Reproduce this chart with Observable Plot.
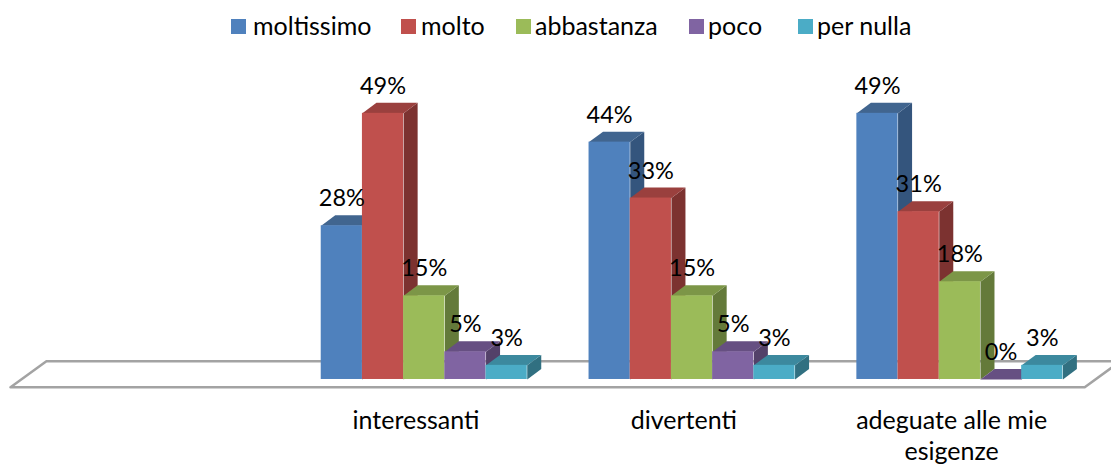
<!DOCTYPE html>
<html>
<head>
<meta charset="utf-8">
<script src="https://cdn.jsdelivr.net/npm/d3@7"></script>
<script src="https://cdn.jsdelivr.net/npm/@observablehq/plot@0.6"></script>
<style>
html,body{margin:0;padding:0;background:#fff;overflow:hidden;width:1111px;height:466px}
#legend{position:relative;height:52px;width:1111px;font:25px Lato,sans-serif;color:#000}
#legend div{position:absolute;top:9px;line-height:32px;white-space:nowrap}
#legend i{position:absolute;top:19px;width:15px;height:15px}
svg{display:block}
</style>
</head>
<body>
<div id="legend"></div>
<div id="chart"></div>
<script>
const categories = ["interessanti", "divertenti", "adeguate alle mie\nesigenze"];
const series = ["moltissimo", "molto", "abbastanza", "poco", "per nulla"];
const interessanti = [28.3, 49, 15.4, 5.1, 2.6];
const divertenti = [43.7, 33.4, 15.4, 5.1, 2.6];
const adeguate = [49, 30.9, 18, 0, 2.6];
const frontColors = ["#4f81bd", "#c0504d", "#9bbb59", "#8064a2", "#4bacc6"];
const topColors = ["#41658f", "#9a403e", "#7c9647", "#664f82", "#3c899e"];
const sideColors = ["#34557d", "#7c3230", "#647a3a", "#534169", "#317081"];
const legendSwatchX = [231, 401, 516, 689, 798];
const legendTextX = [253, 421, 535, 708, 817];

const groupStep = 6.5, depthX = 0.34, depthY = 1.93;
const groups = [interessanti, divertenti, adeguate];
const bars = groups.flatMap((vals, g) => vals.map((v, s) => ({
  g, s, v, x1: g * groupStep + s, x2: g * groupStep + s + 1, key: g + "-" + s, label: Math.round(v) + "%"
})));
const poly = pts => bars.flatMap(b => pts(b).map(([x, y]) => ({x, y, key: b.key, s: b.s})));
const sides = poly(b => [[b.x2, 0], [b.x2 + depthX, depthY], [b.x2 + depthX, b.v + depthY], [b.x2, b.v]]);
const tops = poly(b => [[b.x1, b.v], [b.x1 + depthX, b.v + depthY], [b.x2 + depthX, b.v + depthY], [b.x2, b.v]]);
const floorPts = [{x: -7.54, y: -1.42}, {x: -6.67, y: 3.37}, {x: 19.4, y: 3.37}, {x: 18.53, y: -1.42}, {x: -7.54, y: -1.42}];
const catLabels = categories.map((c, g) => ({c, x: g * groupStep + 2.3, y: -4.95}));

const fillBy = arr => d => arr[d.s];

const chart = Plot.plot({
  width: 1111, height: 414,
  marginTop: 0, marginRight: 0, marginBottom: 0, marginLeft: 0,
  x: {domain: [-7.784, 19.18], range: [0, 1111], axis: null},
  y: {domain: [-16.02, 60.2], range: [414, 0], axis: null},
  style: {background: "#fff", overflow: "hidden"},
  marks: [
    Plot.line(floorPts, {x: "x", y: "y", stroke: "#a3a3a3", strokeWidth: 2.5, curve: "linear", clip: true}),
    Plot.line(sides, {x: "x", y: "y", z: "key", fill: fillBy(sideColors), stroke: "none", curve: "linear"}),
    Plot.line(tops, {x: "x", y: "y", z: "key", fill: fillBy(topColors), stroke: "none", curve: "linear"}),
    Plot.rect(bars, {x1: "x1", x2: "x2", y1: 0, y2: "v", fill: d => frontColors[d.s]}),
    Plot.text(bars, {x: d => (d.x1 + d.x2) / 2, y: "v", text: "label", dy: -27, fontSize: 23.5, fontFamily: "Lato", fill: "#000"}),
    Plot.text(catLabels, {x: "x", y: "y", text: "c", fontSize: 25, fontFamily: "Lato", fill: "#000", lineAnchor: "top", lineHeight: 1.26})
  ]
});
document.getElementById("chart").append(chart);

const legend = document.getElementById("legend");
series.forEach((s, i) => {
  const sw = document.createElement("i");
  sw.style.left = legendSwatchX[i] + "px";
  sw.style.background = frontColors[i];
  const t = document.createElement("div");
  t.style.left = legendTextX[i] + "px";
  t.textContent = s;
  legend.append(sw, t);
});
</script>
</body>
</html>
